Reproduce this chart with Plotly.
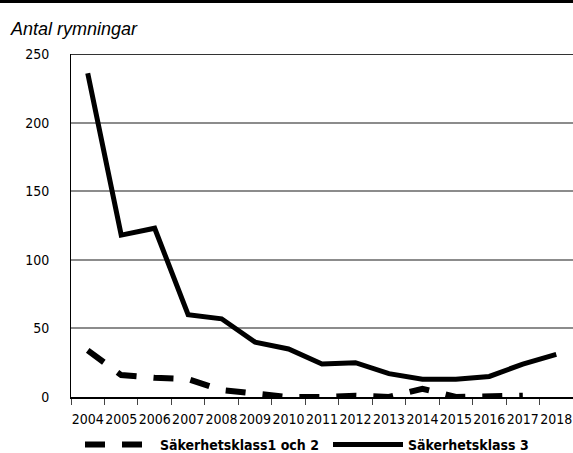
import plotly.graph_objects as go

years = [str(y) for y in range(2004, 2019)]
klass_1_2 = [34, 16, 14, 13, 5, 2, 0, 0, 1, 0, 6, 0, 0, 1, None]
klass_3 = [236, 118, 123, 60, 57, 40, 35, 24, 25, 17, 13, 13, 15, 24, 31]
yticks = [0, 50, 100, 150, 200, 250]

fig = go.Figure()
fig.add_trace(go.Scatter(
    x=years, y=klass_1_2, mode="lines", name="Säkerhetsklass1 och 2",
    line=dict(color="black", width=6, dash="20px,17px"),
    legendwidth=163,
))
fig.add_trace(go.Scatter(
    x=years, y=klass_3, mode="lines", name="Säkerhetsklass 3",
    line=dict(color="black", width=5),
    legendwidth=135,
))

narrow = "DejaVu Sans Condensed"
W, H = 573, 453
L, T, B = 71, 54, 56
PH = H - T - B
PW = W - L

fig.update_layout(
    width=W, height=H,
    margin=dict(l=L, r=0, t=T, b=B, pad=0, autoexpand=False),
    paper_bgcolor="white", plot_bgcolor="white",
    showlegend=True,
    legend=dict(
        orientation="h", xref="container", x=80 / W, xanchor="left",
        yref="container", y=(H - 445) / H, yanchor="middle",
        font=dict(family=narrow, size=14, color="black", weight="bold"),
        itemwidth=70, bgcolor="rgba(0,0,0,0)", borderwidth=0,
    ),
    xaxis=dict(
        type="category", range=[-0.5, 14.5], tickson="boundaries",
        ticks="outside", ticklen=6, tickcolor="#444", tickwidth=1,
        showline=True, linecolor="black", linewidth=1.5, tickangle=0,
        showgrid=False, zeroline=False, ticklabelstandoff=8,
        tickfont=dict(family=narrow, size=14, color="black"),
    ),
    yaxis=dict(
        range=[0, 250], tickvals=yticks, ticktext=[str(v) for v in yticks],
        showgrid=True, gridcolor="#8c8c8c", gridwidth=1.5,
        ticks="", showline=True, linecolor="black", linewidth=1,
        zeroline=False, ticklabelstandoff=18,
        tickfont=dict(family=narrow, size=14, color="black"),
    ),
    shapes=[
        dict(type="line", xref="paper", yref="paper", x0=-0.2, x1=1.05,
             y0=1 + (T - 1.5) / PH, y1=1 + (T - 1.5) / PH,
             line=dict(color="black", width=3)),
        dict(type="line", xref="paper", yref="y", x0=0, x1=1,
             y0=250, y1=250, line=dict(color="#333", width=2)),
    ],
    annotations=[
        dict(text="Antal rymningar", xref="paper", yref="paper",
             x=-(L - 8) / PW, y=1 + 25 / PH, xanchor="left", yanchor="middle",
             showarrow=False,
             font=dict(family="Liberation Sans, Arial, sans-serif", size=18,
                       color="black", style="italic")),
    ],
)

fig.write_html("out.html", config={"displayModeBar": False},
               post_script="document.body.style.margin='0';")
